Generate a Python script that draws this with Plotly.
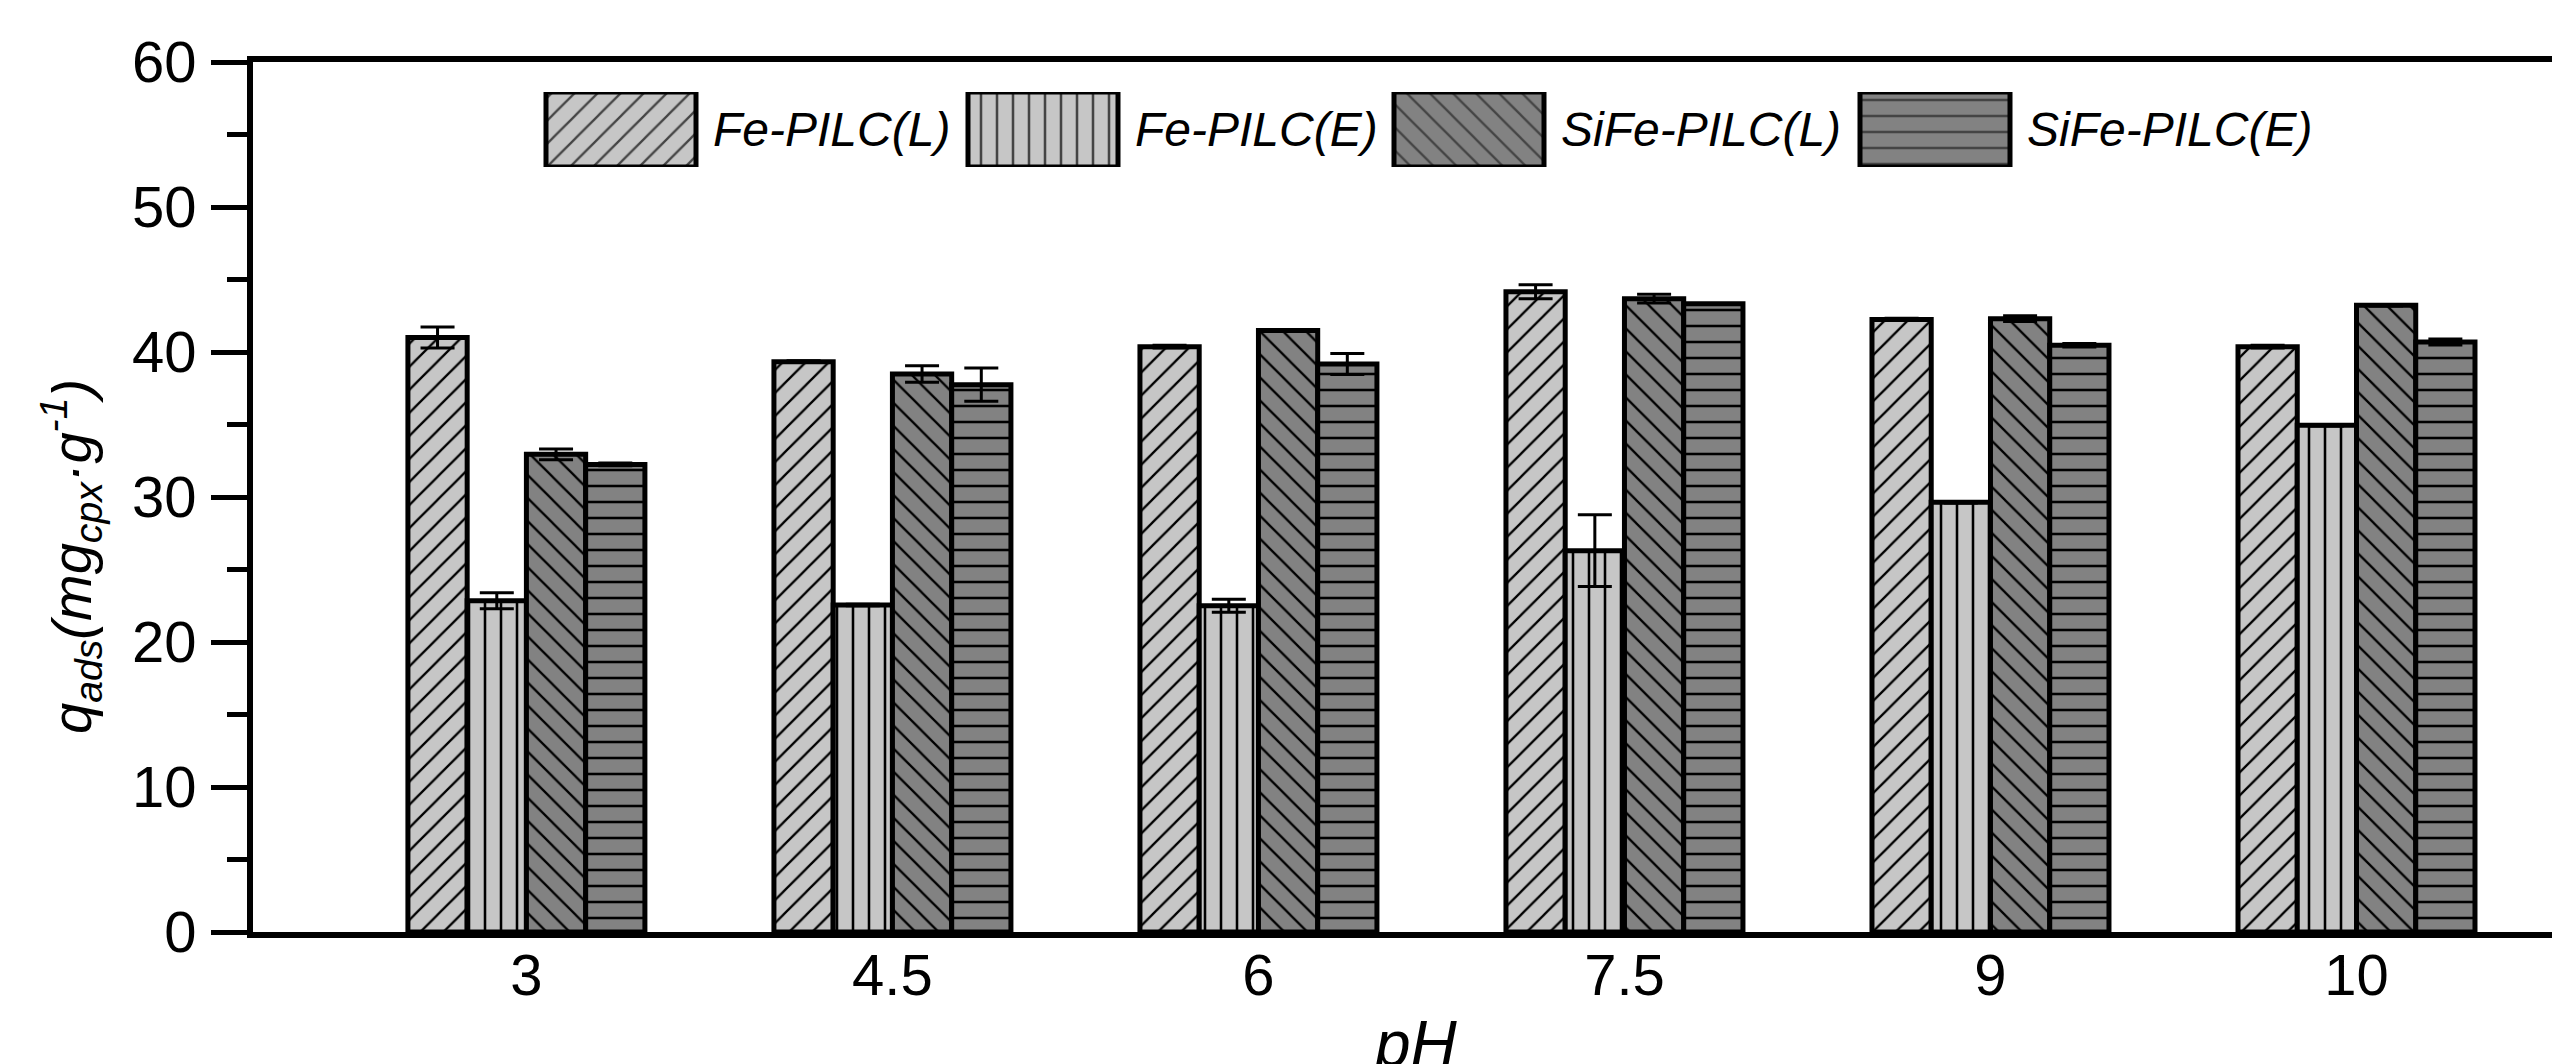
import plotly.graph_objects as go

# ---------------- data ----------------
categories = ["3", "4.5", "6", "7.5", "9", "10"]
series_names = ["Fe-PILC(L)", "Fe-PILC(E)", "SiFe-PILC(L)", "SiFe-PILC(E)"]

fe_l = [41.0, 39.33, 40.37, 44.16, 42.25, 40.37]
fe_l_err = [0.72, 0.06, 0.10, 0.48, 0.08, 0.10]
fe_e = [22.85, 22.55, 22.5, 26.3, 29.63, 34.94]
fe_e_err = [0.55, 0.05, 0.44, 2.48, 0.05, 0.05]
sife_l = [32.94, 38.48, 41.48, 43.68, 42.3, 43.22]
sife_l_err = [0.37, 0.57, 0.05, 0.30, 0.20, 0.05]
sife_e = [32.25, 37.75, 39.17, 43.33, 40.46, 40.69]
sife_e_err = [0.10, 1.14, 0.72, 0.0, 0.12, 0.20]

values = [fe_l, fe_e, sife_l, sife_e]
errors = [fe_l_err, fe_e_err, sife_l_err, sife_e_err]

y_ticks = [0, 10, 20, 30, 40, 50, 60]

# ---------------- styles ----------------
LIGHT = "#c6c6c6"
DARK = "#828282"
fills = [LIGHT, LIGHT, DARK, DARK]
shapes = ["/", "|", "\\", "-"]
psizes = [16.3, 16, 16.3, 16]
psolid = [0.14, 0.16, 0.14, 0.16]

FONT = "Liberation Sans, Arial, sans-serif"

W, H = 2560, 1064
OFF = 8  # page body margin of the html page
# plot area in page pixels
PX0, PX1, PY0, PY1 = 253, 2560, 62, 932
ML, MR, MT, MB = PX0 - OFF, W - (PX1 - OFF), PY0 - OFF, H - (PY1 - OFF)
PW, PH = PX1 - PX0, PY1 - PY0

fig = go.Figure()

for name, vals, errs, col, shp, ps, so in zip(series_names, values, errors, fills, shapes, psizes, psolid):
    fig.add_trace(go.Bar(
        x=categories, y=vals, name=name, showlegend=False,
        marker=dict(color=col, line=dict(color="black", width=5),
                    pattern=dict(shape=shp, fgcolor="black", bgcolor=col, fgopacity=1,
                                 size=ps, solidity=so, fillmode="overlay")),
        error_y=dict(type="data", array=errs, visible=True, color="black",
                     thickness=3, width=17),
    ))

# ---------------- custom legend (swatches on a hidden axis) ----------------
leg_left = [546, 968, 1394, 1860]
leg_w = 150
fig.add_trace(go.Bar(
    x=leg_left, y=[1, 1, 1, 1], base=0, width=[leg_w] * 4, offset=0,
    xaxis="x2", yaxis="y2", showlegend=False, hoverinfo="skip",
    marker=dict(color=fills, line=dict(color="black", width=5),
                pattern=dict(shape=shapes, fgcolor="black", bgcolor=fills, fgopacity=1,
                             size=psizes, solidity=psolid, fillmode="overlay")),
))

annotations = []
for lx, name in zip(leg_left, series_names):
    annotations.append(dict(
        x=lx + leg_w + 15, y=0.5, xref="x2", yref="y2",
        text="<i>%s</i>" % name, showarrow=False, xanchor="left", yanchor="middle",
        font=dict(family=FONT, size=48, color="black")))

# y-axis title
annotations.append(dict(
    x=(71 - PX0) / PW, y=(PY1 - 557) / PH, xref="paper", yref="paper",
    text="<i>q<sub>ads</sub>(mg<sub>cpx</sub>·g<sup>-1</sup>)</i>",
    textangle=-90, showarrow=False, xanchor="center", yanchor="middle",
    font=dict(family=FONT, size=56, color="black")))

# x-axis title
annotations.append(dict(
    x=(1416 - PX0) / PW, y=-0.085, xref="paper", yref="paper",
    text="<i>pH</i>", showarrow=False, xanchor="center", yanchor="top",
    font=dict(family=FONT, size=64, color="black")))

fig.update_layout(
    width=W, height=H,
    margin=dict(l=ML, r=MR, t=MT, b=MB, pad=0),
    paper_bgcolor="white", plot_bgcolor="white",
    barmode="group", bargap=0.3525, bargroupgap=0,
    showlegend=False,
    font=dict(family=FONT, color="black"),
    annotations=annotations,
    xaxis=dict(
        type="category", categoryorder="array", categoryarray=categories,
        range=[-0.747, 5.556],
        showline=True, linecolor="black", linewidth=6, mirror=True,
        ticks="", showgrid=False, zeroline=False, ticklabelstandoff=-13,
        tickfont=dict(family=FONT, size=58, color="black"),
    ),
    yaxis=dict(
        range=[0, 60], tickvals=y_ticks, ticktext=[str(v) for v in y_ticks],
        showline=True, linecolor="black", linewidth=6, mirror=False,
        ticks="outside", ticklen=36, tickwidth=5, tickcolor="black",
        minor=dict(dtick=5, ticks="outside", ticklen=20, tickwidth=5, tickcolor="black", showgrid=False),
        showgrid=False, zeroline=False, ticklabelstandoff=3,
        tickfont=dict(family=FONT, size=58, color="black"),
    ),
    xaxis2=dict(domain=[0, 1], range=[PX0, PX1], visible=False, anchor="y2",
                fixedrange=True),
    yaxis2=dict(domain=[(PY1 - 167) / PH, (PY1 - 92) / PH], range=[0, 1],
                visible=False, anchor="x2", fixedrange=True),
)

fig.write_html("out.html")
